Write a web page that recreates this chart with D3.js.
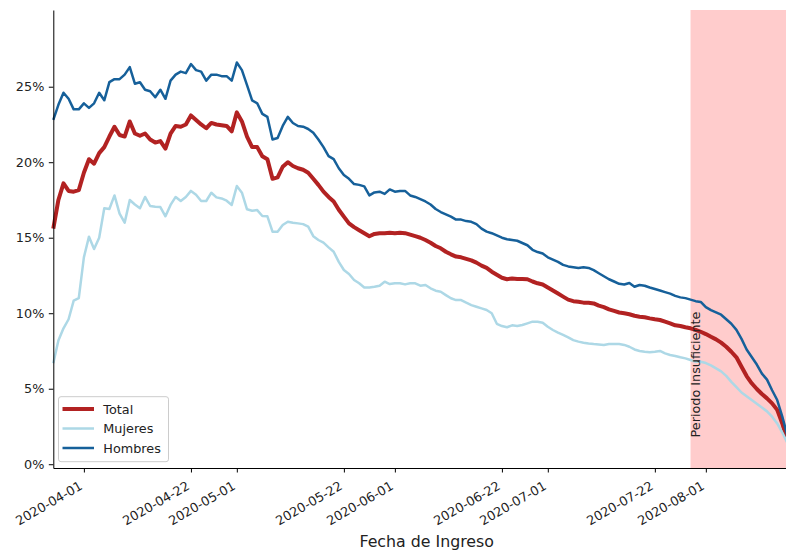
<!DOCTYPE html>
<html><head><meta charset="utf-8">
<script src="https://cdn.jsdelivr.net/npm/d3@7/dist/d3.min.js"></script>
<style>body{margin:0;background:#fff} svg{display:block}</style>
</head><body>
<svg id="chart" width="786" height="554"></svg>
<script>
// ---- data (percent), one value per day starting at startDate ----
const startDate = "2020-03-26";
const total = [15.6,17.5,18.6,18.1,18.05,18.15,19.3,20.2,19.9,20.6,21.0,21.7,22.35,21.8,21.7,22.7,21.9,21.75,21.9,21.5,
21.3,21.4,20.9,21.9,22.4,22.35,22.5,23.1,22.8,22.5,22.25,22.6,22.5,22.45,22.4,22.05,23.3,22.7,21.7,21.0,
21.0,20.4,20.2,18.9,19.0,19.7,20.0,19.75,19.6,19.5,19.3,18.9,18.5,18.05,17.7,17.4,16.85,16.4,15.95,15.7,
15.5,15.3,15.1,15.25,15.3,15.3,15.33,15.3,15.33,15.3,15.2,15.1,15.0,14.85,14.67,14.45,14.3,14.07,13.9,13.75,
13.7,13.6,13.5,13.35,13.15,13.0,12.75,12.55,12.35,12.25,12.3,12.27,12.27,12.25,12.1,11.98,11.9,11.7,11.5,11.3,
11.1,10.9,10.8,10.76,10.7,10.7,10.65,10.5,10.4,10.25,10.15,10.05,10.0,9.93,9.83,9.77,9.73,9.66,9.6,9.55,
9.44,9.33,9.2,9.15,9.07,9.0,8.9,8.77,8.62,8.44,8.27,8.05,7.78,7.45,7.08,6.46,5.84,5.36,4.98,4.65,
4.36,4.03,3.6,2.7,1.6];
const mujeres = [6.68,8.2,9.0,9.6,10.83,11.0,13.7,15.07,14.25,15.0,16.95,16.9,17.8,16.6,16.0,17.5,17.2,16.95,17.7,17.1,
17.05,17.03,16.42,17.17,17.7,17.43,17.7,18.1,17.85,17.43,17.43,17.98,17.67,17.6,17.45,17.17,18.42,17.98,16.88,16.79,
16.83,16.44,16.42,15.4,15.4,15.84,16.06,15.99,15.95,15.9,15.73,15.1,14.85,14.67,14.36,14.07,13.4,12.86,12.6,12.2,
11.98,11.7,11.7,11.75,11.82,12.09,11.93,11.98,11.98,11.91,11.98,11.98,11.82,11.87,11.65,11.49,11.42,11.2,10.99,10.87,
10.87,10.7,10.54,10.43,10.32,10.21,10.0,9.3,9.15,9.07,9.2,9.15,9.22,9.33,9.44,9.44,9.37,9.1,8.89,8.71,
8.56,8.4,8.22,8.12,8.05,8.0,7.96,7.93,7.9,7.96,7.96,7.96,7.9,7.78,7.6,7.5,7.45,7.41,7.45,7.5,
7.34,7.23,7.17,7.08,7.01,6.9,6.79,6.79,6.7,6.55,6.35,6.15,5.85,5.45,5.1,4.75,4.5,4.25,4.0,3.75,
3.5,3.15,2.7,2.1,1.4];
const hombres = [22.8,23.8,24.6,24.2,23.5,23.5,23.9,23.6,23.9,24.6,24.1,25.3,25.5,25.5,25.8,26.3,25.2,25.3,24.8,24.7,
24.3,24.8,24.2,25.4,25.8,26.0,25.9,26.5,26.1,26.0,25.4,25.8,25.8,25.7,25.7,25.4,26.6,26.1,25.1,24.1,
23.9,23.2,23.0,21.5,21.6,22.4,23.0,22.6,22.4,22.35,22.2,21.95,21.5,21.0,20.4,20.2,19.6,19.15,18.9,18.55,
18.5,18.4,17.8,18.0,18.05,17.9,18.2,18.05,18.1,18.1,17.8,17.7,17.55,17.4,17.2,16.9,16.7,16.55,16.4,16.2,
16.2,16.1,16.05,15.9,15.6,15.4,15.3,15.15,15.0,14.9,14.85,14.8,14.65,14.5,14.2,14.05,13.95,13.7,13.55,13.4,
13.2,13.1,13.05,13.0,13.05,13.0,12.85,12.65,12.45,12.25,12.1,11.95,11.9,12.0,11.75,11.87,11.82,11.7,11.6,11.5,
11.4,11.3,11.15,11.05,11.0,10.9,10.8,10.75,10.4,10.2,10.05,9.9,9.6,9.3,8.9,8.3,7.6,7.1,6.6,6.0,
5.6,4.9,4.25,3.15,1.9];
const seriesNames = ["Total", "Mujeres", "Hombres"];
const xTickLabels = ["2020-04-01","2020-04-22","2020-05-01","2020-05-22","2020-06-01","2020-06-22","2020-07-01","2020-07-22","2020-08-01"];
const yTickValues = [0, 5, 10, 15, 20, 25];
const shadeStart = "2020-07-29";
const shadeLabel = "Periodo Insuficiente";
const xAxisTitle = "Fecha de Ingreso";

// ---- styles / layout ----
const colors = {Total: "#b22222", Mujeres: "#add8e6", Hombres: "#16609a"};
const widths = {Total: 4, Mujeres: 2.5, Hombres: 2.5};
const FONT = "'DejaVu Sans', sans-serif";
const TXT = "#222";
const M = {left: 53.3, right: 787.4, top: 10, bottom: 468};

const parse = d3.timeParse("%Y-%m-%d");
const fmt = d3.timeFormat("%Y-%m-%d");
const t0 = parse(startDate);
const dates = total.map((_, i) => d3.timeDay.offset(t0, i));
const seriesData = {Total: total, Mujeres: mujeres, Hombres: hombres};

const svg = d3.select("#chart");
const x = d3.scaleTime().domain([t0, dates[dates.length - 1]]).range([M.left, M.right]);
const y = d3.scaleLinear().domain([-0.25, 30.08]).range([M.bottom, M.top]);

// shaded period
svg.append("rect")
  .attr("x", x(parse(shadeStart))).attr("y", M.top)
  .attr("width", M.right - x(parse(shadeStart))).attr("height", M.bottom - M.top)
  .attr("fill", "#ffcccc");

// lines
const line = d3.line().x((d, i) => x(dates[i])).y(d => y(d));
seriesNames.forEach(name => {
  svg.append("path").datum(seriesData[name])
    .attr("d", line)
    .attr("fill", "none")
    .attr("stroke", colors[name])
    .attr("stroke-width", widths[name])
    .attr("stroke-linejoin", "round")
    .attr("stroke-linecap", "butt");
});

// shade label
svg.append("text")
  .attr("transform", `translate(700,437.5) rotate(-90)`)
  .attr("font-family", FONT).attr("font-size", 12.8).attr("fill", TXT)
  .text(shadeLabel);

// y axis
const yAxis = svg.append("g").attr("transform", `translate(${M.left},0)`)
  .call(d3.axisLeft(y).tickValues(yTickValues).tickFormat(d => d + "%")
    .tickSize(4.5).tickPadding(4.5).tickSizeOuter(0));
yAxis.select(".domain").attr("stroke", "#000").attr("stroke-width", 1);
yAxis.selectAll(".tick line").attr("stroke", "#000").attr("stroke-width", 1);
yAxis.selectAll("text").attr("font-family", FONT).attr("font-size", 12.8).attr("fill", TXT);

// x axis
const xAxis = svg.append("g").attr("transform", `translate(0,${M.bottom})`)
  .call(d3.axisBottom(x).tickValues(xTickLabels.map(parse)).tickFormat(fmt)
    .tickSize(4.5).tickPadding(4.5).tickSizeOuter(0));
xAxis.select(".domain").attr("stroke", "#000").attr("stroke-width", 1);
xAxis.selectAll(".tick line").attr("stroke", "#000").attr("stroke-width", 1);
xAxis.selectAll("text")
  .attr("font-family", FONT).attr("font-size", 12.8).attr("fill", TXT)
  .attr("x", 0).attr("y", 0).attr("dy", null)
  .attr("text-anchor", "end")
  .attr("transform", "translate(-1,20.5) rotate(-30)");

// x title
svg.append("text")
  .attr("x", 426.7).attr("y", 546.5).attr("text-anchor", "middle")
  .attr("font-family", FONT).attr("font-size", 15.8).attr("fill", TXT)
  .text(xAxisTitle);

// legend
const lg = svg.append("g");
lg.append("rect").attr("x", 58.5).attr("y", 396.7).attr("width", 110).attr("height", 65)
  .attr("rx", 2.5).attr("fill", "#fff").attr("fill-opacity", 0.8)
  .attr("stroke", "#cccccc").attr("stroke-width", 1);
seriesNames.forEach((name, i) => {
  const yy = 409 + i * 19.5;
  lg.append("line").attr("x1", 62.5).attr("x2", 94).attr("y1", yy).attr("y2", yy)
    .attr("stroke", colors[name]).attr("stroke-width", widths[name]);
  lg.append("text").attr("x", 103.3).attr("y", yy).attr("dy", "0.36em")
    .attr("font-family", FONT).attr("font-size", 12.8).attr("fill", TXT)
    .text(name);
});
</script>
</body></html>
